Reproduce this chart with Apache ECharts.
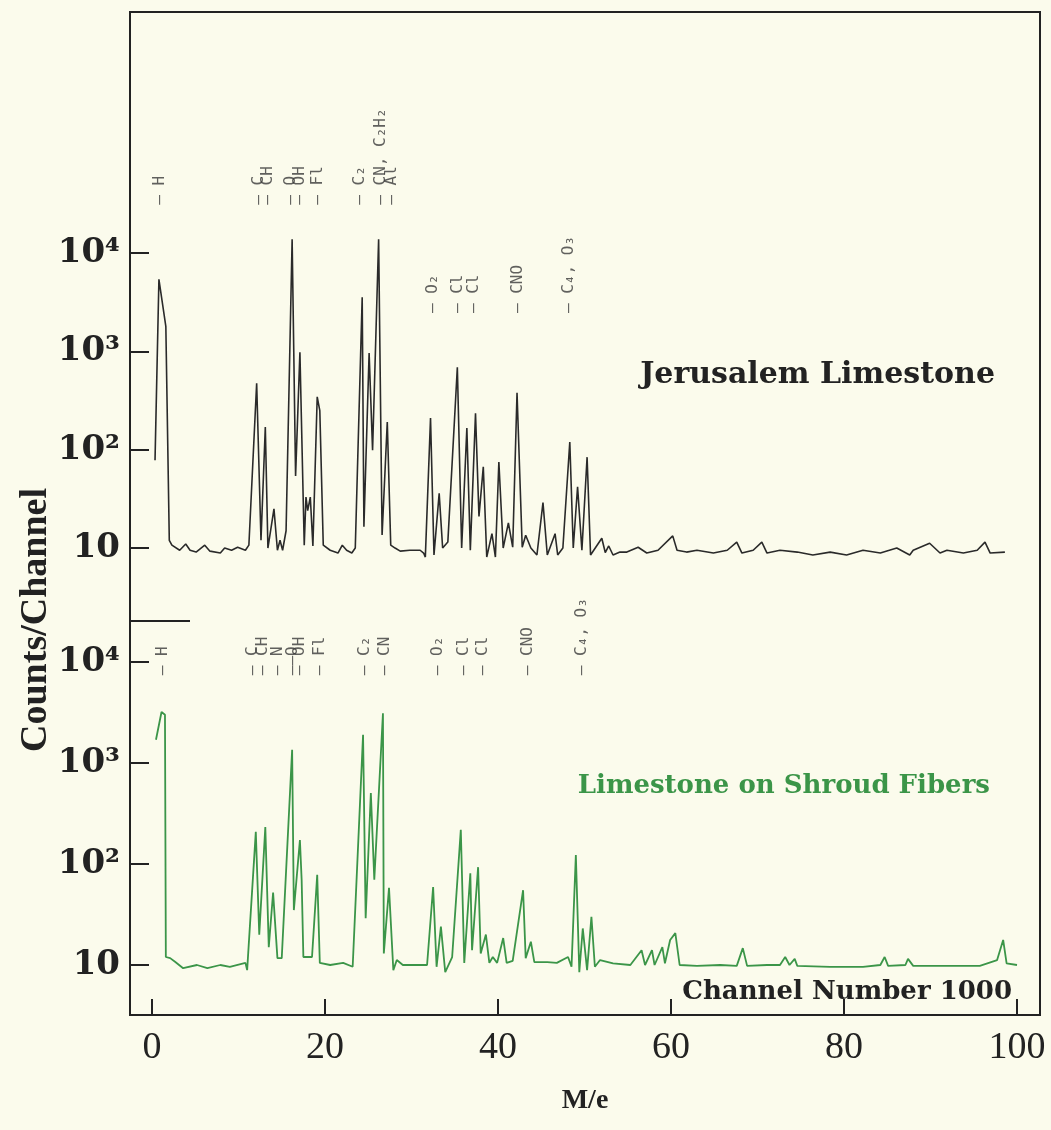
<!DOCTYPE html>
<html>
<head>
<meta charset="utf-8">
<script src="https://cdn.jsdelivr.net/npm/echarts@6/dist/echarts.min.js"></script>
<style>
  html, body { margin: 0; padding: 0; background: #fbfbec; }
  #chart { width: 1051px; height: 1130px; }
</style>
</head>
<body>
<div id="chart"></div>
<script>
// M/e ticks and log ticks
var massTicks = [0, 20, 40, 60, 80, 100];
var countTicks = [10, 100, 1000, 10000];
var countLabels = { 10: '10', 100: '10²', 1000: '10³', 10000: '10⁴' };

// Jerusalem Limestone spectrum [M/e, counts]
var jerusalem = [
  [0.35, 78], [0.8, 5400], [1.6, 1800], [2.0, 12], [2.3, 10.7], [3.2, 9.5], [3.9, 11], [4.4, 9.5],
  [5.1, 9.1], [6.1, 10.7], [6.7, 9.3], [7.9, 8.9], [8.4, 10], [9.2, 9.5], [9.9, 10.2], [10.8, 9.5],
  [11.2, 10.7], [12.1, 475], [12.6, 12], [13.1, 170], [13.4, 10], [14.1, 25], [14.5, 9.5], [14.8, 12],
  [15.1, 9.5], [15.5, 15], [16.2, 13800], [16.6, 54], [17.1, 980], [17.6, 10.7], [17.8, 33], [18.0, 24],
  [18.3, 33], [18.6, 10.5], [19.1, 345], [19.4, 250], [19.8, 10.7], [20.6, 9.5], [21.5, 8.9], [22.0, 10.7],
  [22.5, 9.5], [23.1, 8.9], [23.5, 10], [24.3, 3560], [24.5, 16.5], [25.1, 960], [25.5, 99], [26.2, 13800],
  [26.6, 13.6], [27.2, 191], [27.6, 10.7], [28.1, 10], [28.7, 9.3], [29.8, 9.5], [31.0, 9.5], [31.4, 8.9],
  [31.6, 8.1], [32.2, 210], [32.6, 8.5], [33.2, 36], [33.6, 10], [34.2, 11.5], [35.3, 690], [35.8, 10],
  [36.4, 166], [36.8, 9.5], [37.4, 235], [37.8, 21], [38.3, 67], [38.7, 8.1], [39.3, 14], [39.7, 8.1],
  [40.1, 75], [40.6, 10], [41.2, 18], [41.7, 10.2], [42.2, 380], [42.8, 10.2], [43.2, 13.5], [43.8, 10],
  [44.5, 8.5], [45.2, 29], [45.7, 8.5], [46.6, 14], [46.9, 8.5], [47.5, 10], [48.3, 120], [48.7, 10],
  [49.2, 42], [49.7, 9.5], [50.3, 84], [50.7, 8.5], [52.0, 12.6], [52.4, 9], [52.8, 10.5], [53.3, 8.5],
  [54.1, 9.1], [54.9, 9.1], [56.2, 10.2], [57.2, 8.9], [58.5, 9.5], [60.2, 13.3], [60.7, 9.5], [61.8, 9.1],
  [63.0, 9.5], [64.9, 8.9], [66.5, 9.5], [67.6, 11.5], [68.2, 8.9], [69.5, 9.5], [70.5, 11.5], [71.1, 8.9],
  [72.6, 9.5], [74.6, 9.1], [76.4, 8.5], [78.4, 9.1], [80.3, 8.5], [82.2, 9.5], [84.2, 8.9], [86.1, 10],
  [87.6, 8.5], [88.0, 9.5], [89.9, 11.2], [91.1, 8.9], [91.9, 9.5], [93.8, 8.9], [95.4, 9.5], [96.3, 11.5],
  [96.9, 8.9], [98.6, 9.1]
];

// Limestone on Shroud Fibers spectrum [M/e, counts]
var shroud = [
  [0.46, 1700], [1.1, 3200], [1.5, 3000], [1.6, 12], [2.1, 11.7], [2.7, 10.7], [3.6, 9.3], [5.2, 10],
  [6.4, 9.3], [7.9, 10], [9.0, 9.6], [10.8, 10.5], [11.0, 8.9], [12.0, 208], [12.4, 20], [13.1, 232],
  [13.5, 15], [14.0, 52], [14.5, 11.7], [15.0, 11.7], [16.2, 1350], [16.4, 35], [17.1, 173], [17.3, 70],
  [17.5, 12], [18.5, 12], [19.1, 78], [19.4, 10.5], [20.6, 10], [22.1, 10.5], [23.2, 9.6], [24.4, 1900],
  [24.7, 29], [25.3, 505], [25.7, 70], [26.7, 3100], [26.8, 13], [27.4, 58], [27.9, 8.9], [28.3, 11.2],
  [29.0, 10], [31.8, 10], [32.5, 59], [32.9, 9.6], [33.4, 24], [33.9, 8.5], [34.7, 12], [35.7, 218],
  [36.1, 10.5], [36.8, 81], [37.0, 14], [37.7, 93], [38.0, 13], [38.6, 20], [39.0, 10.5], [39.4, 12],
  [39.9, 10.5], [40.6, 18.5], [41.0, 10.5], [41.7, 11], [42.9, 55], [43.2, 11.7], [43.8, 17], [44.2, 10.7],
  [45.7, 10.7], [46.8, 10.5], [48.1, 12], [48.5, 9.6], [49.0, 123], [49.4, 8.5], [49.8, 23], [50.3, 8.9],
  [50.8, 30], [51.2, 9.6], [51.8, 11.2], [53.3, 10.4], [55.3, 10], [56.6, 14], [57.0, 10], [57.8, 14],
  [58.1, 10], [59.0, 15], [59.3, 10.4], [59.9, 17.7], [60.5, 20.7], [61.0, 10], [63.0, 9.8], [65.7, 10],
  [67.6, 9.8], [68.3, 14.7], [68.8, 9.8], [71.1, 10], [72.6, 10], [73.2, 12], [73.7, 10], [74.3, 11.5],
  [74.6, 9.8], [78.4, 9.6], [82.2, 9.6], [84.2, 10], [84.7, 12], [85.1, 9.8], [87.1, 10], [87.4, 11.5],
  [88.0, 9.8], [91.9, 9.8], [95.7, 9.8], [97.7, 11.2], [98.4, 17.7], [98.8, 10.4], [100.0, 10]
];

// peak identifications [M/e, counts where the label starts, text]
var jerusalemPeaks = [
  [0.9, 31000, '— H'], [12.3, 31000, '— C'], [13.4, 31000, '— CH'], [16.0, 31000, '— O'],
  [17.1, 31000, '— OH'], [19.2, 31000, '— Fl'], [24.0, 31000, '— C₂'], [26.4, 31000, '— CN, C₂H₂'],
  [27.7, 31000, '— Al'], [32.5, 2450, '— O₂'], [35.4, 2450, '— Cl'], [37.2, 2450, '— Cl'],
  [42.3, 2450, '— CNO'], [48.2, 2450, '— C₄, O₃']
];
var shroudPeaks = [
  [1.3, 7400, '— H'], [11.7, 7400, '— C'], [12.8, 7400, '— CH'], [14.5, 7400, '— N'],
  [16.3, 7400, '——O'], [17.1, 7400, '— OH'], [19.4, 7400, '— Fl'], [24.6, 7400, '— C₂'],
  [26.9, 7400, '— CN'], [33.1, 7400, '— O₂'], [36.0, 7400, '— Cl'], [38.3, 7400, '— Cl'],
  [43.4, 7400, '— CNO'], [49.7, 7400, '— C₄, O₃']
];

var ink = '#222';
var green = '#3b9548';
var xMin = -2.543, xMax = 102.659;

var myChart = echarts.init(document.getElementById('chart'));

function hiddenX(idx) {
  return { type: 'value', gridIndex: idx, min: xMin, max: xMax, show: false };
}
function countAxis(idx) {
  return {
    type: 'log', logBase: 10, gridIndex: idx, min: 1, max: 100000,
    axisLine: { show: false, onZero: false },
    splitLine: { show: false },
    axisTick: { inside: true, length: 19, customValues: countTicks, lineStyle: { color: ink, width: 2 } },
    axisLabel: {
      customValues: countTicks, margin: 10,
      formatter: function (v) { return countLabels[Math.round(v)] || ''; },
      fontFamily: 'DejaVu Serif', fontWeight: 'bold', fontSize: 34, color: ink
    }
  };
}
function peakSeries(axisIdx, data) {
  return {
    type: 'scatter', xAxisIndex: axisIdx, yAxisIndex: axisIdx, data: data,
    symbolSize: 0, silent: true, z: 5,
    label: {
      show: true, position: 'inside', rotate: 90, align: 'left', verticalAlign: 'middle',
      formatter: function (p) { return p.data[2]; },
      fontFamily: 'DejaVu Sans Mono', fontSize: 16, color: '#3a3a3a'
    }
  };
}

var option = {
  backgroundColor: '#fbfbec',
  animation: false,
  grid: [
    { left: 130, top: 12, width: 910, height: 1003, show: true, borderColor: ink, borderWidth: 2, backgroundColor: 'transparent' },
    { left: 130, top: 154.7, width: 910, height: 491.7 },
    { left: 130, top: 561, width: 910, height: 505 }
  ],
  xAxis: [
    {
      type: 'value', gridIndex: 0, min: xMin, max: xMax,
      name: 'M/e', nameLocation: 'middle', nameGap: 72,
      nameTextStyle: { fontFamily: 'Liberation Serif', fontWeight: 'bold', fontSize: 28, color: ink },
      axisLine: { show: false },
      splitLine: { show: false },
      axisTick: { inside: true, length: 16, customValues: massTicks, lineStyle: { color: ink, width: 2 } },
      axisLabel: { customValues: massTicks, margin: 14, fontFamily: 'Liberation Serif', fontSize: 38, color: ink }
    },
    hiddenX(1),
    hiddenX(2)
  ],
  yAxis: [
    { type: 'value', gridIndex: 0, min: 0, max: 1, show: false },
    countAxis(1),
    countAxis(2)
  ],
  series: [
    {
      name: 'Jerusalem Limestone', type: 'line', xAxisIndex: 1, yAxisIndex: 1,
      data: jerusalem, showSymbol: false, silent: true,
      lineStyle: { color: '#2a2a2a', width: 1.6 }
    },
    {
      name: 'Limestone on Shroud Fibers', type: 'line', xAxisIndex: 2, yAxisIndex: 2,
      data: shroud, showSymbol: false, silent: true,
      lineStyle: { color: green, width: 1.8 }
    },
    peakSeries(1, jerusalemPeaks),
    peakSeries(2, shroudPeaks)
  ],
  graphic: [
    {
      type: 'text', x: 36, y: 620, rotation: Math.PI / 2,
      style: { text: 'Counts/Channel', fontFamily: 'Liberation Serif', fontWeight: 'bold', fontSize: 38, fill: ink, align: 'center', verticalAlign: 'middle' }
    },
    {
      type: 'text', x: 995, y: 375,
      style: { text: 'Jerusalem Limestone', fontFamily: 'DejaVu Serif', fontWeight: 'bold', fontSize: 30, fill: ink, align: 'right', verticalAlign: 'middle' }
    },
    {
      type: 'text', x: 990, y: 786,
      style: { text: 'Limestone on Shroud Fibers', fontFamily: 'DejaVu Serif', fontWeight: 'bold', fontSize: 26, fill: green, align: 'right', verticalAlign: 'middle' }
    },
    {
      type: 'text', x: 1012, y: 992,
      style: { text: 'Channel Number 1000', fontFamily: 'DejaVu Serif', fontWeight: 'bold', fontSize: 26, fill: ink, align: 'right', verticalAlign: 'middle' }
    },
    {
      type: 'line', shape: { x1: 130, y1: 621, x2: 190, y2: 621 },
      style: { stroke: ink, lineWidth: 2 }
    }
  ]
};

myChart.setOption(option);
window.addEventListener('resize', function () {
  myChart.resize();
});
</script>
</body>
</html>
